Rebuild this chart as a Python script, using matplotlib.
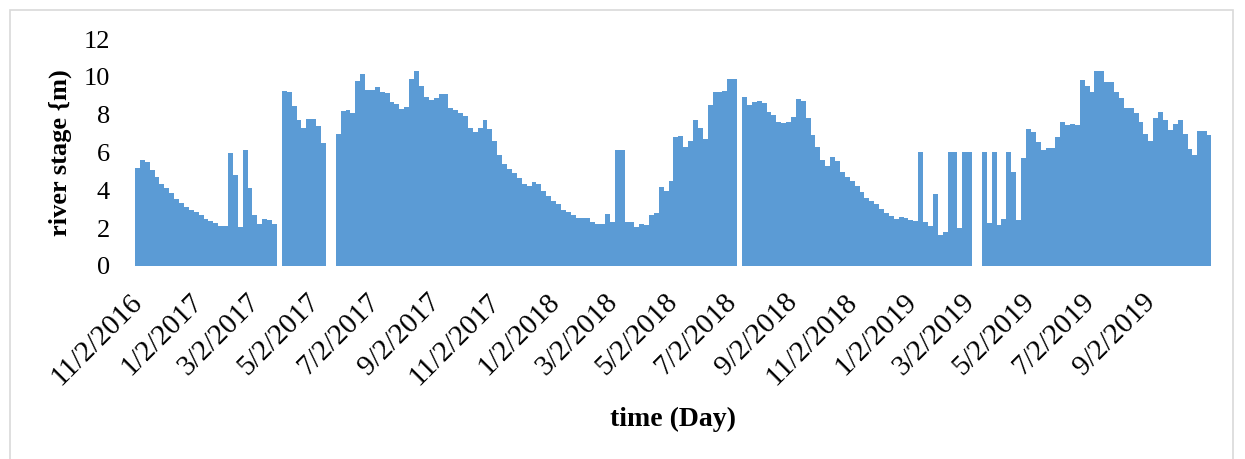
import datetime as dt

import matplotlib

matplotlib.use("Agg")
import matplotlib.dates as mdates
import matplotlib.pyplot as plt
from matplotlib.patches import Rectangle
from matplotlib.transforms import ScaledTranslation

# river stage (m), one value per 5-day step
STEP_DAYS = 5
segment_starts = [
    dt.date(2016, 11, 2),
    dt.date(2017, 4, 1),
    dt.date(2017, 5, 26),
    dt.date(2018, 7, 15),
    dt.date(2019, 3, 17),
]
stage_seg1 = [5.2, 5.6, 5.5, 5.05, 4.7, 4.35, 4.1, 3.84, 3.55, 3.35, 3.1, 2.98, 2.86, 2.7, 2.5,
              2.4, 2.25, 2.1, 2.1, 6.0, 4.8, 2.04, 6.13, 4.1, 2.7, 2.2, 2.47, 2.45, 2.2]
stage_seg2 = [9.25, 9.2, 8.45, 7.7, 7.28, 7.75, 7.75, 7.4, 6.5]
stage_seg3 = [6.98, 8.2, 8.25, 8.1, 9.8, 10.15, 9.3, 9.3, 9.44, 9.22, 9.13, 8.65, 8.56, 8.3, 8.4,
              9.9, 10.32, 9.5, 8.95, 8.8, 8.86, 9.1, 9.1, 8.35, 8.25, 8.07, 7.95, 7.3, 7.1, 7.3,
              7.72, 7.25, 6.6, 5.87, 5.4, 5.15, 4.9, 4.65, 4.35, 4.25, 4.42, 4.35, 3.95, 3.7, 3.42,
              3.28, 2.97, 2.83, 2.7, 2.53, 2.52, 2.52, 2.3, 2.22, 2.22, 2.75, 2.34, 6.13, 6.13, 2.31,
              2.3, 2.05, 2.2, 2.15, 2.7, 2.82, 4.19, 3.95, 4.5, 6.8, 6.87, 6.3, 6.6, 7.72, 7.3,
              6.72, 8.5, 9.18, 9.2, 9.25, 9.9, 9.9]
stage_seg4 = [8.95, 8.5, 8.65, 8.72, 8.6, 8.12, 7.98, 7.6, 7.54, 7.6, 7.86, 8.81, 8.7, 7.8, 6.92,
              6.3, 5.6, 5.3, 5.78, 5.55, 4.98, 4.72, 4.5, 4.22, 3.9, 3.62, 3.45, 3.3, 3.02, 2.82,
              2.65, 2.5, 2.6, 2.55, 2.45, 2.4, 6.04, 2.34, 2.11, 3.81, 1.64, 1.78, 6.04, 6.04, 1.99,
              6.04, 6.04]
stage_seg5 = [6.04, 2.26, 6.04, 2.17, 2.47, 6.04, 4.99, 2.43, 5.7, 7.24, 7.1, 6.55, 6.15, 6.22, 6.22,
              6.8, 7.63, 7.45, 7.5, 7.48, 9.83, 9.5, 9.2, 10.3, 10.32, 9.74, 9.74, 9.21, 8.9, 8.35,
              8.33, 8.1, 7.6, 7.0, 6.62, 7.8, 8.16, 7.7, 7.19, 7.5, 7.72, 7.0, 6.2, 5.85, 7.15,
              7.15, 6.92]
segments = [stage_seg1, stage_seg2, stage_seg3, stage_seg4, stage_seg5]

axis_start = dt.date(2016, 11, 2)
axis_end = dt.date(2019, 11, 6)
tick_dates = [dt.date(2016, 11, 2), dt.date(2017, 1, 2), dt.date(2017, 3, 2), dt.date(2017, 5, 2),
              dt.date(2017, 7, 2), dt.date(2017, 9, 2), dt.date(2017, 11, 2), dt.date(2018, 1, 2),
              dt.date(2018, 3, 2), dt.date(2018, 5, 2), dt.date(2018, 7, 2), dt.date(2018, 9, 2),
              dt.date(2018, 11, 2), dt.date(2019, 1, 2), dt.date(2019, 3, 2), dt.date(2019, 5, 2),
              dt.date(2019, 7, 2), dt.date(2019, 9, 2)]
tick_labels = [f"{d.month}/{d.day}/{d.year}" for d in tick_dates]

BAR_COLOR = "#5B9BD5"

plt.rcParams["font.family"] = ["Liberation Serif", "DejaVu Serif"]

W, H = 1245, 459
fig = plt.figure(figsize=(W / 100, H / 100), dpi=100)
ax = fig.add_axes([135 / W, 1 - 266 / H, 1076 / W, 227 / H])

for start, values in zip(segment_starts, segments):
    x0 = mdates.date2num(start)
    xs = [x0 + STEP_DAYS * k for k in range(len(values))]
    ax.bar(xs, values, width=STEP_DAYS, align="edge", color=BAR_COLOR,
           linewidth=0, antialiased=False)

ax.set_xlim(mdates.date2num(axis_start), mdates.date2num(axis_end))
ax.set_ylim(0, 12)
ax.set_yticks([0, 2, 4, 6, 8, 10, 12])
ax.tick_params(axis="y", length=0, pad=18, labelsize=19)

ax.set_xticks([mdates.date2num(d) + 0.5 for d in tick_dates])
ax.set_xticklabels(tick_labels, rotation=45, ha="right", va="center",
                   rotation_mode="anchor", fontsize=21)
ax.tick_params(axis="x", length=0, pad=23)
shift = ScaledTranslation(0.03, 0, fig.dpi_scale_trans)
for lab in ax.get_xticklabels():
    lab.set_transform(lab.get_transform() + shift)

for side in ["top", "right", "bottom", "left"]:
    ax.spines[side].set_visible(False)

ax.set_ylabel("river stage {m)", fontsize=19, fontweight="bold", va="center")
ax.yaxis.set_label_coords(-0.0698, 0.5)
ax.set_xlabel("time (Day)", fontsize=20, fontweight="bold", va="center")
ax.xaxis.set_label_coords(0.5, (266 - 419) / 227)

fig.patches.append(Rectangle((10 / W, -0.02), 1223 / W, 1 - 10 / H + 0.02,
                             transform=fig.transFigure, fill=False,
                             edgecolor="#d9d9d9", linewidth=1.2))

fig.savefig("out.png", dpi=100)
